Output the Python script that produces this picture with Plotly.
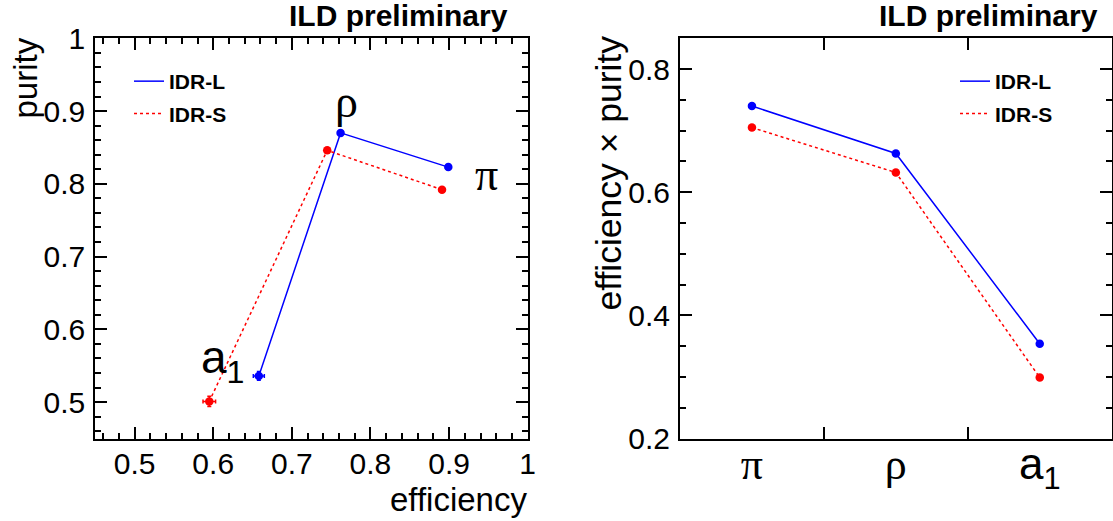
import plotly.graph_objects as go

# ---------------- data ----------------
# Left panel: purity vs efficiency per decay mode
decays = ["π", "ρ", "a1"]
idr_l_eff = [0.899, 0.762, 0.658]
idr_l_pur = [0.823, 0.870, 0.536]
idr_l_eff_err = [0.002, 0.002, 0.007]
idr_l_pur_err = [0.002, 0.002, 0.006]
idr_s_eff = [0.891, 0.745, 0.595]
idr_s_pur = [0.792, 0.846, 0.501]
idr_s_eff_err = [0.002, 0.002, 0.008]
idr_s_pur_err = [0.002, 0.002, 0.007]

# Right panel: efficiency x purity per decay mode
categories = ["π", "ρ", "a1"]
category_ticktext = [
    "π",
    "ρ",
    '<span style="font-family:Liberation Sans">a<sub>1</sub></span>',
]
idr_l_prod = [0.740, 0.663, 0.354]
idr_s_prod = [0.705, 0.632, 0.299]

# ---------------- style ----------------
W, H = 1113, 521
BLUE = "rgb(0,0,255)"
RED = "rgb(255,0,0)"
SANS = "Liberation Sans"
SERIF = "Liberation Serif"
DASH = "3px,3px"

def px_x(p):
    return p / W

def px_y(p):
    return 1 - p / H

fig = go.Figure()

# left panel traces
fig.add_trace(go.Scatter(
    x=idr_l_eff, y=idr_l_pur, mode="lines+markers", name="IDR-L",
    line=dict(color=BLUE, width=1.5), marker=dict(color=BLUE, size=8.5),
    error_x=dict(type="data", array=idr_l_eff_err, color=BLUE, thickness=1.5, width=2),
    error_y=dict(type="data", array=idr_l_pur_err, color=BLUE, thickness=1.5, width=2),
    showlegend=False, xaxis="x", yaxis="y"))
fig.add_trace(go.Scatter(
    x=idr_s_eff, y=idr_s_pur, mode="lines+markers", name="IDR-S",
    line=dict(color=RED, width=1.5, dash=DASH), marker=dict(color=RED, size=8.5),
    error_x=dict(type="data", array=idr_s_eff_err, color=RED, thickness=1.5, width=2),
    error_y=dict(type="data", array=idr_s_pur_err, color=RED, thickness=1.5, width=2),
    showlegend=False, xaxis="x", yaxis="y"))

# right panel traces
fig.add_trace(go.Scatter(
    x=categories, y=idr_l_prod, mode="lines+markers", name="IDR-L",
    line=dict(color=BLUE, width=1.5), marker=dict(color=BLUE, size=8.5),
    showlegend=False, xaxis="x2", yaxis="y2"))
fig.add_trace(go.Scatter(
    x=categories, y=idr_s_prod, mode="lines+markers", name="IDR-S",
    line=dict(color=RED, width=1.5, dash=DASH), marker=dict(color=RED, size=8.5),
    showlegend=False, xaxis="x2", yaxis="y2"))

# legend entries (line only)
for leg, xa, ya in (("legend", "x", "y"), ("legend2", "x2", "y2")):
    fig.add_trace(go.Scatter(x=[None], y=[None], mode="lines", name="IDR-L",
                             line=dict(color=BLUE, width=1.5), legend=leg,
                             legendgroup=leg + "L", xaxis=xa, yaxis=ya))
    fig.add_trace(go.Scatter(x=[None], y=[None], mode="lines", name="IDR-S",
                             line=dict(color=RED, width=1.5, dash=DASH), legend=leg,
                             legendgroup=leg + "S", xaxis=xa, yaxis=ya))

axis_common = dict(
    showline=True, linecolor="black", linewidth=2, mirror="ticks",
    ticks="inside", ticklen=12, tickwidth=1.5, tickcolor="black",
    showgrid=False, zeroline=False, automargin=False,
    tickfont=dict(family=SANS, size=30, color="black"),
)

fig.update_layout(
    width=W, height=H,
    margin=dict(l=0, r=0, t=0, b=0),
    paper_bgcolor="white", plot_bgcolor="white",
    xaxis=dict(domain=[px_x(95.3), px_x(527.7)], anchor="y", range=[0.45, 1.0],
               dtick=0.1, tick0=0.5,
               minor=dict(dtick=0.02, ticklen=6, tickwidth=1.5, ticks="inside", tickcolor="black"),
               ticklabelstandoff=-3,
               **axis_common),
    yaxis=dict(domain=[px_y(438.5), px_y(38.3)], anchor="x", range=[0.45, 1.0],
               dtick=0.1, tick0=0.5,
               minor=dict(dtick=0.02, ticklen=6, tickwidth=1.5, ticks="inside", tickcolor="black"),
               ticklabelstandoff=2,
               **axis_common),
    xaxis2=dict(domain=[px_x(680), px_x(1111.7)], anchor="y2", type="category",
                range=[-0.5, 2.5], tickson="boundaries",
                tickmode="array", tickvals=categories, ticktext=category_ticktext,
                ticklabelstandoff=-14,
                **{**axis_common, "tickfont": dict(family=SERIF, size=44, color="black")}),
    yaxis2=dict(domain=[px_y(438.5), px_y(38.3)], anchor="x2", range=[0.2, 0.85],
                dtick=0.2, tick0=0.2,
                minor=dict(dtick=0.05, ticklen=6, tickwidth=1.5, ticks="inside", tickcolor="black"),
                ticklabelstandoff=2,
                **axis_common),
    legend=dict(x=px_x(129), y=px_y(61), xanchor="left", yanchor="top",
                bgcolor="rgba(0,0,0,0)", tracegroupgap=2,
                font=dict(family=SANS, size=21, color="black", weight="bold")),
    legend2=dict(x=px_x(955), y=px_y(61), xanchor="left", yanchor="top",
                 bgcolor="rgba(0,0,0,0)", tracegroupgap=2,
                 font=dict(family=SANS, size=21, color="black", weight="bold")),
)

ann_font = dict(family=SANS, size=33, color="black")
annotations = [
    dict(text="ILD preliminary", x=px_x(510), y=px_y(15), xref="paper", yref="paper",
         xanchor="right", yanchor="middle", showarrow=False,
         font=dict(family=SANS, size=30, color="black", weight="bold")),
    dict(text="ILD preliminary", x=px_x(1100), y=px_y(15), xref="paper", yref="paper",
         xanchor="right", yanchor="middle", showarrow=False,
         font=dict(family=SANS, size=30, color="black", weight="bold")),
    dict(text="purity", x=px_x(25), y=px_y(36), xref="paper", yref="paper",
         xanchor="center", yanchor="top", textangle=-90, showarrow=False, font=ann_font),
    dict(text="efficiency", x=px_x(529), y=px_y(499), xref="paper", yref="paper",
         xanchor="right", yanchor="middle", showarrow=False, font=ann_font),
    dict(text="efficiency × purity", x=px_x(608), y=px_y(34), xref="paper", yref="paper",
         xanchor="center", yanchor="top", textangle=-90, showarrow=False,
         font=dict(family=SANS, size=35.5, color="black")),
    # decay-mode labels in the left panel
    dict(text="ρ", x=0.769, y=0.913, xref="x", yref="y", showarrow=False,
         font=dict(family=SERIF, size=46, color="black")),
    dict(text="π", x=0.947, y=0.813, xref="x", yref="y", showarrow=False,
         font=dict(family=SERIF, size=46, color="black")),
    dict(text="a<sub>1</sub>", x=0.612, y=0.557, xref="x", yref="y", showarrow=False,
         font=dict(family=SANS, size=46, color="black")),
]
fig.update_layout(annotations=annotations)

fig.write_html(
    "out.html",
    config={"displayModeBar": False},
    post_script="document.body.style.margin='0';document.body.style.padding='0';",
)
